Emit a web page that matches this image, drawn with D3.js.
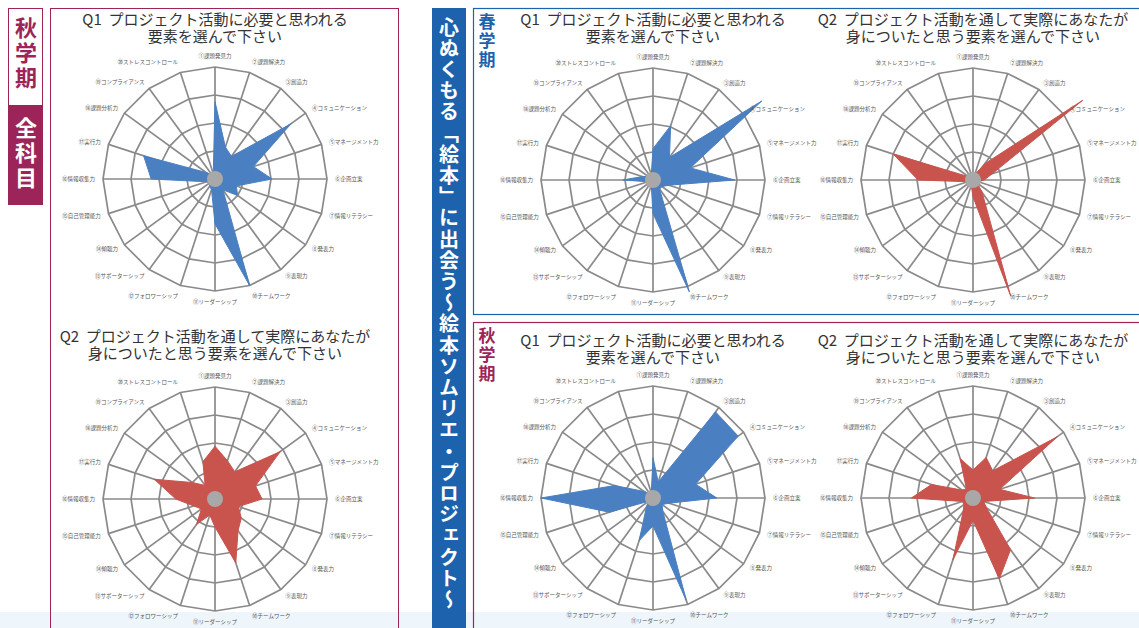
<!DOCTYPE html>
<html>
<head>
<meta charset="utf-8">
<script src="https://cdn.jsdelivr.net/npm/d3@7"></script>
<style>
  html, body { margin: 0; padding: 0; background: #fff; }
  svg { display: block; font-family: "Noto Sans CJK JP", "Noto Sans", sans-serif; }
</style>
</head>
<body>
<script>
// axis labels (20 elements, clockwise from top)
const AXES = ['①課題発見力', '②課題解決力', '③創造力', '④コミュニケーション', '⑤マネージメント力',
    '⑥企画立案', '⑦情報リテラシー', '⑧発表力', '⑨表現力', '⑩チームワーク', '⑪リーダーシップ',
    '⑫フォロワーシップ', '⑬サポーターシップ', '⑭傾聴力', '⑮自己管理能力', '⑯情報収集力',
    '⑰実行力', '⑱課題分析力', '⑲コンプライアンス', '⑳ストレスコントロール']
const RINGS = [25, 50, 75, 100]

const Q1_TITLE = ['Q1  プロジェクト活動に必要と思われる', '要素を選んで下さい']
const Q2_TITLE = ['Q2  プロジェクト活動を通して実際にあなたが', '身についたと思う要素を選んで下さい']

// values, % of the outer ring
const allQ1 = [69, 30, 25, 84, 36, 51, 20, 25, 12, 100, 40, 10, 8, 6, 8, 57, 67, 10, 5, 5]
const allQ2 = [47, 36, 30, 72, 38, 42, 22, 29, 35, 60, 25, 15, 28, 15, 20, 35, 57, 25, 15, 35]
const springQ1 = [28, 51, 25, 120, 35, 73, 15, 10, 10, 105, 30, 5, 5, 5, 5, 27, 10, 5, 5, 5]
const springQ2 = [5, 5, 18, 121, 18, 10, 5, 5, 14, 109, 15, 5, 5, 5, 5, 49, 75, 5, 5, 5]
const autumnQ1 = [36, 15, 95, 94, 40, 57, 15, 10, 15, 96, 25, 40, 10, 5, 41, 100, 36, 10, 5, 5]
const autumnQ2 = [25, 38, 30, 93, 25, 55, 10, 15, 57, 76, 20, 58, 15, 10, 10, 55, 39, 12, 10, 37]

const BLUE = '#4a80c2'
const RED = '#c9534d'
const MAROON = '#9c2458'
const NAVY = '#1d62ad'

const W = 1139, H = 628
const svg = d3.select('body').append('svg').attr('width', W).attr('height', H)

// faint band at the very bottom of the page
svg.append('rect').attr('x', 0).attr('y', 612).attr('width', W).attr('height', 16).attr('fill', '#eef6fb')

// frames
svg.append('rect').attr('x', 50.5).attr('y', 8.5).attr('width', 348).attr('height', 640)
    .attr('fill', 'none').attr('stroke', MAROON).attr('stroke-width', 1)
svg.append('rect').attr('x', 473.5).attr('y', 8.5).attr('width', 680).attr('height', 306)
    .attr('fill', 'none').attr('stroke', NAVY).attr('stroke-width', 1.2)
svg.append('rect').attr('x', 473.5).attr('y', 322.5).attr('width', 680).attr('height', 330)
    .attr('fill', 'none').attr('stroke', MAROON).attr('stroke-width', 1.2)

// left tag
svg.append('rect').attr('x', 8.5).attr('y', 8.5).attr('width', 34).attr('height', 97)
    .attr('fill', '#fff').attr('stroke', MAROON).attr('stroke-width', 1)
svg.append('rect').attr('x', 8).attr('y', 105).attr('width', 35).attr('height', 100).attr('fill', MAROON)

function vtext(x, y, str, size, color, spacing) {
    return svg.append('text')
        .attr('x', x).attr('y', y)
        .attr('font-size', size).attr('font-weight', 'bold')
        .attr('fill', color)
        .attr('letter-spacing', spacing)
        .style('writing-mode', 'vertical-rl')
        .text(str)
}
vtext(26, 17, '秋学期', 22, MAROON, 3)
vtext(26, 117, '全科目', 22, '#fff', 3)
vtext(487, 13, '春学期', 17, NAVY, 2)
vtext(487, 327, '秋学期', 17, MAROON, 2)

// blue banner with vertical title
svg.append('rect').attr('x', 432).attr('y', 8).attr('width', 34).attr('height', 620).attr('fill', NAVY)
vtext(449, 17, '心ぬくもる「絵本」に出会う〜絵本ソムリエ・プロジェクト〜', 20, '#fff', 1.2)

const R = 112
const r = d3.scaleLinear().domain([0, 100]).range([0, R])
const angle = d3.scaleLinear().domain([0, AXES.length]).range([0, 2 * Math.PI])

function radar(cx, cy, titleY, title, values, color) {
    const g = svg.append('g').attr('transform', `translate(${cx},${cy})`)

    svg.append('text')
        .attr('x', cx).attr('y', titleY)
        .attr('text-anchor', 'middle').attr('font-size', 15).attr('fill', '#333')
        .selectAll('tspan').data(title).join('tspan')
        .attr('x', cx).attr('dy', (d, i) => i ? 17 : 0)
        .attr('xml:space', 'preserve')
        .text(d => d)

    const grid = g.append('g').attr('fill', 'none').attr('stroke', '#8a8a8a').attr('stroke-width', 1.7)
    grid.selectAll('path.ring').data(RINGS).join('path').classed('ring', true)
        .attr('d', v => d3.lineRadial().angle((d, i) => angle(i)).radius(() => r(v)).curve(d3.curveLinearClosed)(AXES))
    grid.selectAll('line').data(AXES).join('line')
        .attr('x1', 0).attr('y1', 0)
        .attr('x2', (d, i) => r(100) * Math.sin(angle(i)))
        .attr('y2', (d, i) => -r(100) * Math.cos(angle(i)))

    g.append('path')
        .datum(values)
        .attr('d', d3.lineRadial().angle((d, i) => angle(i)).radius(d => r(d)).curve(d3.curveLinearClosed))
        .attr('fill', color)
        .attr('stroke', color).attr('stroke-width', 1)

    g.append('circle').attr('r', 8).attr('fill', '#a8a8a8')

    g.selectAll('text.lab').data(AXES).join('text').classed('lab', true)
        .attr('x', (d, i) => (R + 8) * Math.sin(angle(i)))
        .attr('y', (d, i) => -(R + 8) * Math.cos(angle(i)))
        .attr('dy', (d, i) => Math.cos(angle(i)) > 0.9 ? '-0.2em' : Math.cos(angle(i)) < -0.9 ? '0.9em' : '0.35em')
        .attr('text-anchor', (d, i) => {
            const s = Math.sin(angle(i))
            return s > 0.1 ? 'start' : s < -0.1 ? 'end' : 'middle'
        })
        .attr('font-size', 5.5).attr('fill', '#555')
        .text(d => d)
}

radar(215, 179, 25, Q1_TITLE, allQ1, BLUE)
radar(215, 499, 342, Q2_TITLE, allQ2, RED)
radar(653, 180, 25, Q1_TITLE, springQ1, BLUE)
radar(973, 180, 25, Q2_TITLE, springQ2, RED)
radar(653, 498, 346, Q1_TITLE, autumnQ1, BLUE)
radar(973, 498, 346, Q2_TITLE, autumnQ2, RED)
</script>
</body>
</html>
